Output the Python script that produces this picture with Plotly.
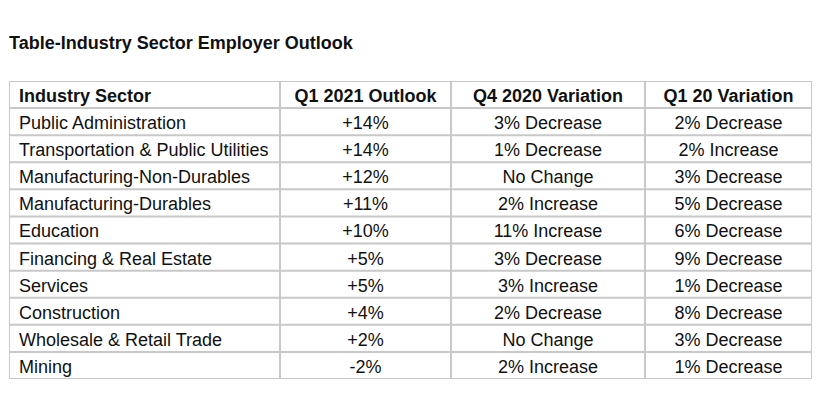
import plotly.graph_objects as go

# Table data
header = ["Industry Sector", "Q1 2021 Outlook", "Q4 2020 Variation", "Q1 20 Variation"]
sectors = ["Public Administration", "Transportation & Public Utilities",
           "Manufacturing-Non-Durables", "Manufacturing-Durables", "Education",
           "Financing & Real Estate", "Services", "Construction",
           "Wholesale & Retail Trade", "Mining"]
outlook = ["+14%", "+14%", "+12%", "+11%", "+10%", "+5%", "+5%", "+4%", "+2%", "-2%"]
q4_2020 = ["3% Decrease", "1% Decrease", "No Change", "2% Increase", "11% Increase",
           "3% Decrease", "3% Increase", "2% Decrease", "No Change", "2% Increase"]
q1_20 = ["2% Decrease", "2% Increase", "3% Decrease", "5% Decrease", "6% Decrease",
         "9% Decrease", "1% Decrease", "8% Decrease", "3% Decrease", "1% Decrease"]

# column edges in px across the table, page body adds an 8px margin
col_edges = [0, 271, 442, 636, 803]
W, H = 817, 405
grid = "#c8c8c8"
font = "Liberation Sans, Arial, sans-serif"
ink = "#111111"

columns = [sectors, outlook, q4_2020, q1_20]
n_rows = len(sectors) + 1
text_shift = 0.11  # text sits a bit below the row middle

fig = go.Figure()

for c, vals in enumerate(columns):
    texts = ["<b>%s</b>" % header[c]] + vals
    ys = [r + 0.5 + text_shift for r in range(n_rows)]
    if c == 0:
        xs = [col_edges[0] + 10] * n_rows
        pos = "middle right"
    else:
        xs = [(col_edges[c] + col_edges[c + 1]) / 2] * n_rows
        pos = "middle center"
    fig.add_trace(go.Scatter(
        x=xs, y=ys, text=texts, mode="text", textposition=pos,
        textfont=dict(family=font, size=18, color=ink),
        hoverinfo="skip", showlegend=False,
    ))

# grid lines
for r in range(n_rows + 1):
    fig.add_shape(type="line", x0=col_edges[0], x1=col_edges[-1], y0=r, y1=r,
                  xref="x", yref="y", line=dict(color=grid, width=2))
for x in col_edges:
    fig.add_shape(type="line", x0=x, x1=x, y0=0, y1=n_rows,
                  xref="x", yref="y", line=dict(color=grid, width=2))

fig.update_xaxes(range=[col_edges[0], col_edges[-1]], visible=False, fixedrange=True)
fig.update_yaxes(range=[n_rows, 0], visible=False, fixedrange=True)

fig.update_layout(
    width=W, height=H,
    margin=dict(l=1, r=13, t=73, b=34),
    paper_bgcolor="white", plot_bgcolor="white",
    title=dict(text="<b>Table-Industry Sector Employer Outlook</b>",
               xref="container", yref="container",
               x=1 / W, xanchor="left", y=1 - 35 / H, yanchor="middle",
               font=dict(family=font, size=18, color=ink)),
)

fig.write_html("out.html", config={"displayModeBar": False})
